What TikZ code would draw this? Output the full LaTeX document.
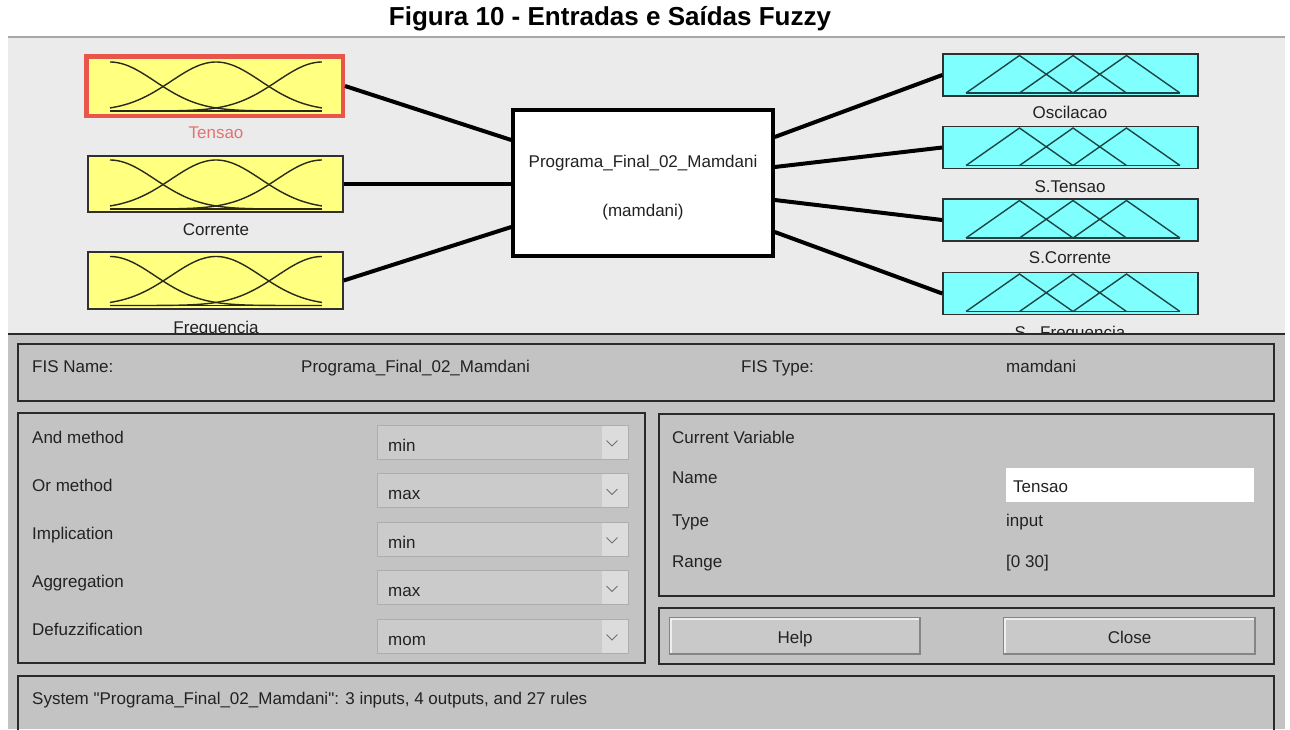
\documentclass[tikz,border=0pt]{standalone}
\usepackage{fontspec}
\setmainfont{Liberation Sans}
\usetikzlibrary{calc}
\definecolor{topbg}{HTML}{EBEBEB}
\definecolor{topline}{HTML}{A8A8A8}
\definecolor{botbg}{HTML}{C3C3C3}
\definecolor{panelc}{HTML}{2A2A2A}
\definecolor{ddfill}{HTML}{CBCBCB}
\definecolor{ddarrow}{HTML}{DCDCDC}
\definecolor{chev}{HTML}{707070}
\definecolor{yelfill}{HTML}{FFFF80}
\definecolor{cyfill}{HTML}{80FFFF}
\definecolor{redb}{HTML}{E8554A}
\definecolor{redtxt}{HTML}{E07474}
\definecolor{txtc}{HTML}{222222}
\definecolor{boxline}{HTML}{303030}
\definecolor{curvec}{HTML}{2A2A18}
\definecolor{tricol}{HTML}{1C4646}
\definecolor{btnfill}{HTML}{C9C9C9}
\definecolor{btndark}{HTML}{858585}
\definecolor{btnlight}{HTML}{EEEEEE}
\tikzset{
 lbl/.style={font=\fontsize{17}{20}\selectfont, text=txtc, inner sep=0pt, anchor=base},
 lblw/.style={lbl, anchor=base west},
 titlestyle/.style={font=\fontsize{26}{30}\selectfont\bfseries, text=black, inner sep=0pt, anchor=base},
 inbox/.style={draw=boxline, fill=yelfill, line width=1.5, minimum width=255, minimum height=56, inner sep=0},
 outbox/.style={draw=boxline, fill=cyfill, line width=1.5, minimum width=255, minimum height=42, inner sep=0},
 fisbox/.style={draw=black, fill=white, line width=3.5, minimum width=260, minimum height=146, inner sep=0},
 conn/.style={line width=4, draw=black},
 curve/.style={draw=curvec, line width=1.4},
 tri/.style={draw=tricol, line width=1.4},
 panel/.style={draw=panelc, line width=1.8},
 ddbox/.style={fill=ddfill, draw=ddfill!85!black, line width=0.6},
 btn/.style={fill=btnfill, draw=btndark, line width=1.5},
}
\newcommand\mfgauss[1]{%
 \foreach \c in {0,0.5,1}{\draw[curve] plot[domain=0:1,samples=60,smooth] ({110+212*\x},{#1+25-49*exp(-((\x-\c)^2)/0.09)});}
 \draw[curve] (110,#1+25) -- (322,#1+25);}
\newcommand\mftri[1]{%
 \draw[tri] (966,#1+18) -- (1019.5,#1-19.5) -- (1073,#1+18) (1019.5,#1+18) -- (1073,#1-19.5) -- (1126.5,#1+18) (1073,#1+18) -- (1126.5,#1-19.5) -- (1180,#1+18);
 \draw[tri] (966,#1+18) -- (1180,#1+18);}
\newcommand\dropdown[3]{% #1 name, #2 top y, #3 text
 \fill[ddbox] (377,#2) rectangle (628,#2+34);
 \fill[ddarrow] (602,#2+0.5) rectangle (627.5,#2+33.5);
 \draw[chev, line width=1] (606.5,#2+15.5) -- (612,#2+21) -- (617.5,#2+15.5);
 \node[lblw] (#1) at (388,#2+26) {#3};}
\begin{document}
\begin{tikzpicture}[x=1pt,y=-1pt]
\useasboundingbox (0,0) rectangle (1290,729);
\fill[white] (0,0) rectangle (1290,729);
\node[titlestyle] (title) at (610,25) {Figura 10 - Entradas e Saídas Fuzzy};
% upper area
\fill[topbg] (8,37) rectangle (1285,334);
\draw[topline, line width=1.5] (8,37) -- (1285,37);
% inputs
\node[inbox, draw=redb, line width=4.5, minimum width=256.5, minimum height=59.5] (in1) at (214.5,86) {};
\node[inbox] (in2) at (215.5,184) {};
\node[inbox, minimum height=57] (in3) at (215.5,280.5) {};
\mfgauss{86}
\mfgauss{184}
\mfgauss{280.5}
\node[lbl, text=redtxt] (l1) at (216,138) {Tensao};
\node[lbl] (l2) at (216,235) {Corrente};
\node[lbl] (l3) at (216,333) {Frequencia};
% FIS box
\node[fisbox] (fis) at (643,183) {};
\node[lbl] (fisname) at (643,167) {Programa\_Final\_02\_Mamdani};
\node[lbl] (fistype) at (643,216) {(mamdani)};
% outputs
\node[outbox] (out1) at (1070.5,75) {};
\node[outbox] (out2) at (1070.5,147.5) {};
\node[outbox] (out3) at (1070.5,220) {};
\node[outbox] (out4) at (1070.5,293.5) {};
\mftri{75}
\mftri{147.5}
\mftri{220}
\mftri{293.5}
\node[lbl] (o1) at (1070,118) {Oscilacao};
\node[lbl] (o2) at (1070,192) {S.Tensao};
\node[lbl] (o3) at (1070,263) {S.Corrente};
\node[lbl] (o4) at (1070,338) {S.\_Frequencia};
% connectors
\draw[conn] (in1.east) -- ($(fis.west)+(0,-43)$);
\draw[conn] (in2.east) -- ($(fis.west)+(0,1)$);
\draw[conn] (in3.east) -- ($(fis.west)+(0,44)$);
\draw[conn] ($(fis.east)+(0,-46)$) -- (out1.west);
\draw[conn] ($(fis.east)+(0,-16)$) -- (out2.west);
\draw[conn] ($(fis.east)+(0,17)$) -- (out3.west);
\draw[conn] ($(fis.east)+(0,49)$) -- (out4.west);
% lower area
\fill[botbg] (8,335) rectangle (1285,729);
\draw[panelc, line width=2] (8,334) -- (1285,334);
\draw[panel] (18,344) rectangle (1274,401);
\draw[panel] (18,413) rectangle (645,663);
\draw[panel] (659,414) rectangle (1274,596);
\draw[panel] (659,608) rectangle (1274,664);
\draw[panel] (18,676) rectangle (1274,740);
\node[lblw] (t1) at (32,372) {FIS Name:};
\node[lblw] (t2) at (301,372) {Programa\_Final\_02\_Mamdani};
\node[lblw] (t3) at (741,372) {FIS Type:};
\node[lblw] (t4) at (1006,372) {mamdani};
\node[lblw] (m1) at (32,443) {And method};
\node[lblw] (m2) at (32,491) {Or method};
\node[lblw] (m3) at (32,539) {Implication};
\node[lblw] (m4) at (32,587) {Aggregation};
\node[lblw] (m5) at (32,635) {Defuzzification};
\dropdown{d1}{425}{min}
\dropdown{d2}{473.5}{max}
\dropdown{d3}{522}{min}
\dropdown{d4}{570.5}{max}
\dropdown{d5}{619}{mom}
\node[lblw] (cv) at (672,443) {Current Variable};
\node[lblw] (cvn) at (672,483) {Name};
\fill[white] (1006,468) rectangle (1254,502);
\node[lblw] (cvnv) at (1013,492) {Tensao};
\node[lblw] (cvt) at (672,526) {Type};
\node[lblw] (cvtv) at (1006,526) {input};
\node[lblw] (cvr) at (672,567) {Range};
\node[lblw] (cvrv) at (1006,567) {[0 30]};
\draw[btn] (670,618) rectangle (920,654);
\draw[btnlight, line width=1.5] (670.75,653) -- (670.75,618.75) -- (919,618.75);
\node[lbl] (help) at (795,643) {Help};
\draw[btn] (1004,618) rectangle (1255,654);
\draw[btnlight, line width=1.5] (1004.75,653) -- (1004.75,618.75) -- (1254,618.75);
\node[lbl] (close) at (1129.5,643) {Close};
\node[lblw] (sys) at (32,704) {\addfontfeatures{Ligatures=TeXOff}System "Programa\_Final\_02\_Mamdani": 3 inputs, 4 outputs, and 27 rules};
\end{tikzpicture}
\end{document}
